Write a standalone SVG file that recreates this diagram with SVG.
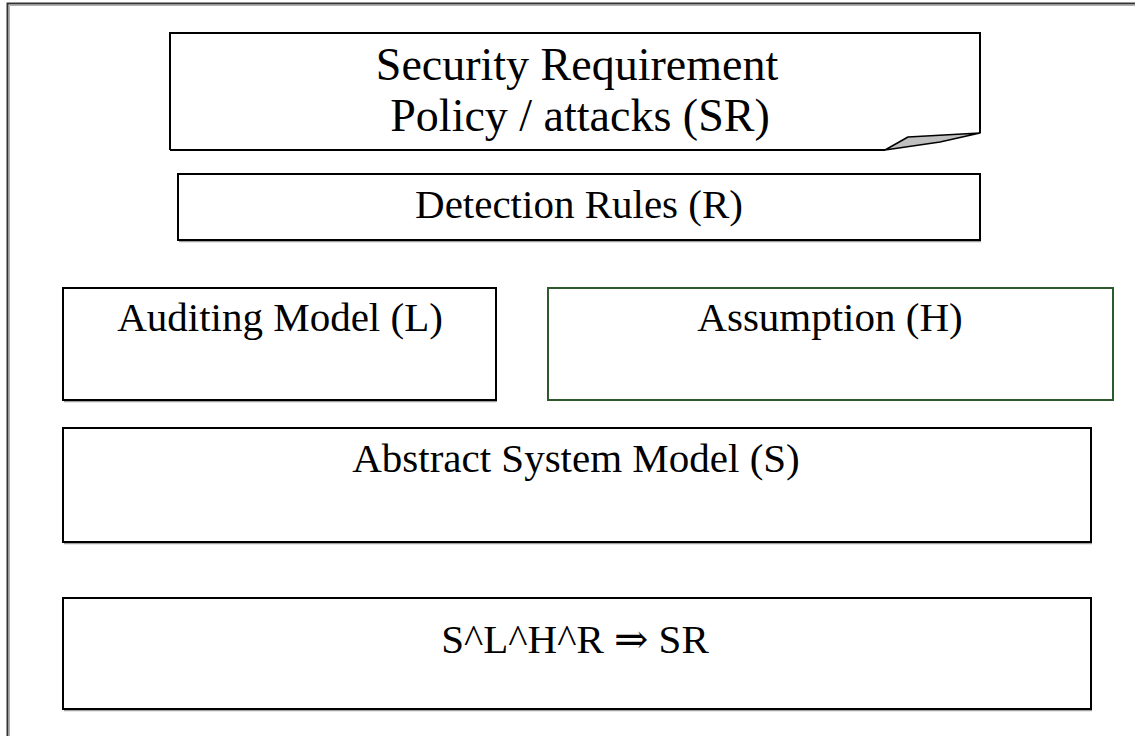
<svg xmlns="http://www.w3.org/2000/svg" width="1135" height="736" viewBox="0 0 1135 736">
<style>
  .box { fill: #ffffff; stroke: #000000; stroke-width: 2; }
  .shadow { fill: none; stroke: #a0a0a0; stroke-width: 1.5; }
  .green { stroke: #2e5a2e; }
  text { font-family: 'Liberation Serif', 'DejaVu Serif', 'Times New Roman', serif; font-size: 41px; fill: #000000; text-anchor: middle; }
  .big { font-size: 46px; }
</style>
<rect x="0" y="0" width="1135" height="736" fill="#ffffff"/>
<g id="frame">
  <path d="M7.5,736 V3.5 H1135" fill="none" stroke="#333333" stroke-width="2"/>
  <path d="M9.5,736 V5.5 H1135" fill="none" stroke="#b0b0b0" stroke-width="1"/>
</g>
<g id="connectors"></g>
<g id="security-requirement">
  <path class="box" d="M170,150 V33 H980 V133"/>
  <path d="M170,150 H885" fill="none" stroke="#000" stroke-width="2"/>
  <path d="M885,150 L908,137 L980,133 L940,142 Z" fill="#c0c0c0" stroke="#000" stroke-width="1.5" stroke-linejoin="round"/>
  <text class="big" x="577" y="80">Security Requirement</text>
  <text class="big" x="580" y="131">Policy / attacks (SR)</text>
</g>
<g id="detection-rules">
  <line class="shadow" x1="179" y1="241.5" x2="981" y2="241.5"/>
  <rect class="box" x="178" y="174" width="802" height="66"/>
  <text x="579" y="218">Detection Rules (R)</text>
</g>
<g id="auditing-model">
  <line class="shadow" x1="64" y1="401.5" x2="497" y2="401.5"/>
  <rect class="box" x="63" y="288" width="433" height="112"/>
  <text x="280" y="331">Auditing Model (L)</text>
</g>
<g id="assumption">
  <rect class="box green" x="548" y="288" width="565" height="112"/>
  <text x="830" y="331">Assumption (H)</text>
</g>
<g id="abstract-system-model">
  <line class="shadow" x1="64" y1="543.5" x2="1092" y2="543.5"/>
  <rect class="box" x="63" y="428" width="1028" height="114"/>
  <text x="576" y="472">Abstract System Model (S)</text>
</g>
<g id="formula">
  <line class="shadow" x1="64" y1="710.5" x2="1092" y2="710.5"/>
  <rect class="box" x="63" y="598" width="1028" height="111"/>
  <text x="575" y="653">S^L^H^R ⇒ SR</text>
</g>
</svg>
